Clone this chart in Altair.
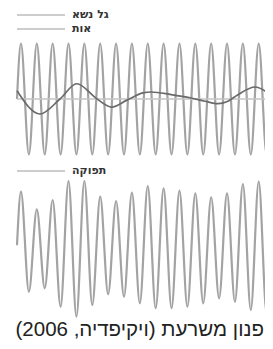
import altair as alt
import pandas as pd

# time axis in carrier cycles; extremes of the waves
carrier_t = [0, 0.25, 0.75, 1.25, 1.75, 2.25, 2.75, 3.25, 3.75, 4.25, 4.75,
             5.25, 5.75, 6.25, 6.75, 7.25, 7.75, 8.25, 8.75, 9.25, 9.75,
             10.25, 10.75, 11.25, 11.75, 12.25, 12.75, 13.25, 13.75, 14.25,
             14.75, 15.25, 15.75, 16]
carrier_v = [0, 1, -1, 1, -1, 1, -1, 1, -1, 1, -1, 1, -1, 1, -1, 1, -1,
             1, -1, 1, -1, 1, -1, 1, -1, 1, -1, 1, -1, 1, -1, 1, -1, 0]

signal_t = [0, 1.45, 2.71, 3.77, 5.05, 5.97, 6.94, 7.95, 8.45, 9.72,
            10.98, 11.86, 12.68, 13.31, 13.94, 15.02, 16.03]
signal_v = [0.15, -0.27, 0, 0.275, 0, -0.145, -0.02, 0.11, 0.126, 0.08,
            0.018, -0.04, -0.085, -0.04, 0.078, 0.216, 0.067]

output_v = [0.04,
            1.005, -0.796, 0.688, -0.735, 0.856, -1.067, 1.198, -1.247,
            1.198, -1.036, 0.915, -0.843, 0.838, -0.886, 0.987, -1.005,
            1.108, -1.095, 1.067, -1.095, 1.023, -1.067, 0.977, -1.005,
            0.905, -0.915, 0.977, -0.977, 1.144, -1.126, 1.186, -1.186,
            0.0]

zero_span = [0, 16]
legend_labels = ["גל נשא", "אות", "תפוקה"]
caption = "\u200fפנון משרעת (ויקיפדיה, 2006)\u200f"

# layout (the page fits a 257x333 drawing inside its 8px margin)
W, H = 257, 333
X0, PX_PER_CYCLE = 9.0, 15.85
Y0, PX_PER_UNIT = 91.0, 55.5
BOTTOM_OFFSET = (91.0 - 239.5) / 55.5

x_dom = [-X0 / PX_PER_CYCLE, (W - X0) / PX_PER_CYCLE]
y_dom = [(Y0 - H) / PX_PER_UNIT, Y0 / PX_PER_UNIT]
xs = alt.Scale(domain=x_dom, nice=False, zero=False)
ys = alt.Scale(domain=y_dom, nice=False, zero=False)

carrier = pd.DataFrame({"t": carrier_t, "v": carrier_v})
signal = pd.DataFrame({"t": signal_t, "v": signal_v})
output = pd.DataFrame({"t": carrier_t, "v": output_v})
output["v"] = output["v"] + BOTTOM_OFFSET
zero_df = pd.DataFrame({"t": [zero_span[0]], "t2": [zero_span[1]], "v": [0]})


def wave(df, color, width):
    return alt.Chart(df).mark_line(
        color=color, strokeWidth=width, interpolate="monotone"
    ).encode(
        x=alt.X("t:Q", scale=xs, axis=None),
        y=alt.Y("v:Q", scale=ys, axis=None),
    )


zero_line = alt.Chart(zero_df).mark_rule(color="#c4c4c4", strokeWidth=1.6).encode(
    x=alt.X("t:Q", scale=xs, axis=None),
    x2="t2:Q",
    y=alt.Y("v:Q", scale=ys, axis=None),
)

leg_y = [7, 21, 163]
leg_df = pd.DataFrame({"label": legend_labels, "yy": leg_y})

legend_rules = alt.Chart(leg_df).mark_rule(color="#9a9a9a", strokeWidth=1).encode(
    x=alt.value(9), x2=alt.value(57),
    y=alt.Y("yy:Q", scale=None),
)
legend_texts = alt.Chart(leg_df).mark_text(
    align="left", baseline="middle", fontSize=11, fontWeight="bold",
    font="DejaVu Sans", color="#333333"
).encode(x=alt.value(64), y=alt.Y("yy:Q", scale=None), text="label:N")

title = alt.Chart(pd.DataFrame({"label": [caption]})).mark_text(
    align="right", baseline="alphabetic", fontSize=20.5, font="Liberation Sans",
    color="#222222"
).encode(x=alt.value(256), y=alt.value(327.5), text="label:N")

chart = alt.layer(
    wave(carrier, "#a3a3a3", 2.2),
    zero_line,
    wave(signal, "#6a6a6a", 1.7),
    wave(output, "#a3a3a3", 2.2),
    legend_rules,
    legend_texts,
    title,
).properties(
    width=W, height=H, autosize=alt.AutoSizeParams(type="none"),
    padding=0, background="white"
).configure_view(stroke=None)

chart.save("out.html", embed_options={"renderer": "svg", "actions": False})
